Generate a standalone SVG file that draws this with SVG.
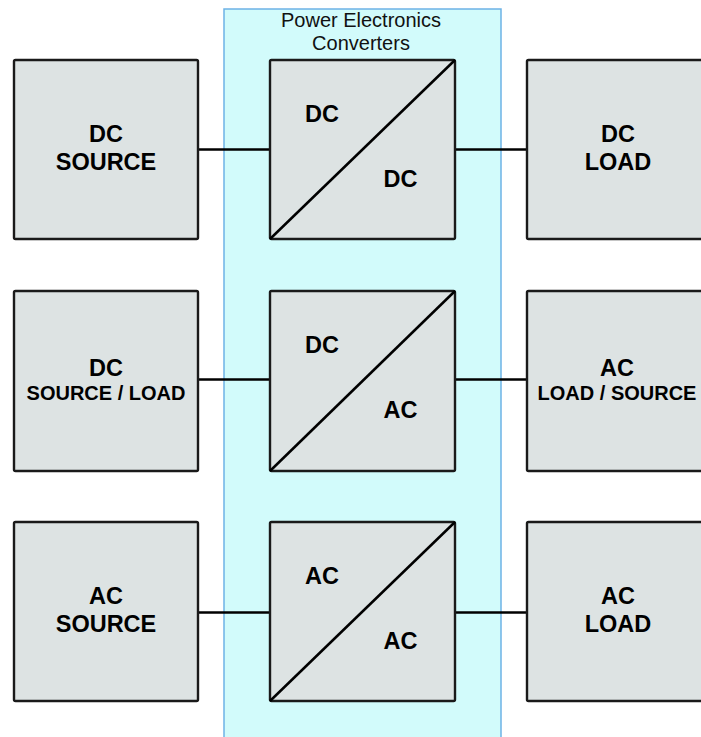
<svg xmlns="http://www.w3.org/2000/svg" width="701" height="737" viewBox="0 0 701 737">
<style>
.box{fill:#dde3e3;stroke:#1a1a1a;stroke-width:2.4}
.conn{stroke:#000;stroke-width:2.5;fill:none}
.diag{stroke:#000;stroke-width:2.5}
.t{font-family:"Liberation Sans",Arial,sans-serif;font-weight:bold;fill:#000;text-anchor:middle}
.big{font-size:23.5px}
.small{font-size:20px}
.title{font-family:"Liberation Sans",Arial,sans-serif;font-size:20px;fill:#111;text-anchor:middle}
</style>
<rect width="701" height="737" fill="#fff"/>
<g id="panel">
<rect x="224" y="9" width="277" height="740" fill="#d2fbfb" stroke="#6db3e6" stroke-width="1.5"/>
<text class="title" x="361" y="27">Power Electronics</text>
<text class="title" x="361" y="50">Converters</text>
</g>
<g id="connectors">
<line class="conn" x1="198" y1="149.5" x2="270" y2="149.5"/>
<line class="conn" x1="455" y1="149.5" x2="527" y2="149.5"/>
<line class="conn" x1="198" y1="379.5" x2="270" y2="379.5"/>
<line class="conn" x1="455" y1="379.5" x2="527" y2="379.5"/>
<line class="conn" x1="198" y1="612.5" x2="270" y2="612.5"/>
<line class="conn" x1="455" y1="612.5" x2="527" y2="612.5"/>
</g>
<g id="dc-source">
<rect class="box" x="14" y="60" width="184" height="179" rx="1.5"/>
<text class="t big" x="106" y="142">DC</text>
<text class="t big" x="106" y="170">SOURCE</text>
</g>
<g id="dc-dc">
<rect class="box" x="270" y="60" width="185" height="179" rx="1.5"/>
<line class="diag" x1="270" y1="239" x2="455" y2="60"/>
<text class="t big" x="322" y="122">DC</text>
<text class="t big" x="400.5" y="187">DC</text>
</g>
<g id="dc-load">
<rect class="box" x="527" y="60" width="184" height="179" rx="1.5"/>
<text class="t big" x="618" y="142">DC</text>
<text class="t big" x="618" y="170">LOAD</text>
</g>
<g id="dc-source-load">
<rect class="box" x="14" y="291" width="184" height="180" rx="1.5"/>
<text class="t big" x="106" y="376">DC</text>
<text class="t small" x="106" y="400">SOURCE / LOAD</text>
</g>
<g id="dc-ac">
<rect class="box" x="270" y="291" width="185" height="180" rx="1.5"/>
<line class="diag" x1="270" y1="471" x2="455" y2="291"/>
<text class="t big" x="322" y="353">DC</text>
<text class="t big" x="400.5" y="418">AC</text>
</g>
<g id="ac-load-source">
<rect class="box" x="527" y="291" width="184" height="180" rx="1.5"/>
<text class="t big" x="617" y="376">AC</text>
<text class="t small" x="617" y="400">LOAD / SOURCE</text>
</g>
<g id="ac-source">
<rect class="box" x="14" y="522" width="184" height="179" rx="1.5"/>
<text class="t big" x="106" y="604">AC</text>
<text class="t big" x="106" y="632">SOURCE</text>
</g>
<g id="ac-ac">
<rect class="box" x="270" y="522" width="185" height="179" rx="1.5"/>
<line class="diag" x1="270" y1="701" x2="455" y2="522"/>
<text class="t big" x="322" y="584">AC</text>
<text class="t big" x="400.5" y="649">AC</text>
</g>
<g id="ac-load">
<rect class="box" x="527" y="522" width="184" height="179" rx="1.5"/>
<text class="t big" x="618" y="604">AC</text>
<text class="t big" x="618" y="632">LOAD</text>
</g>
</svg>
